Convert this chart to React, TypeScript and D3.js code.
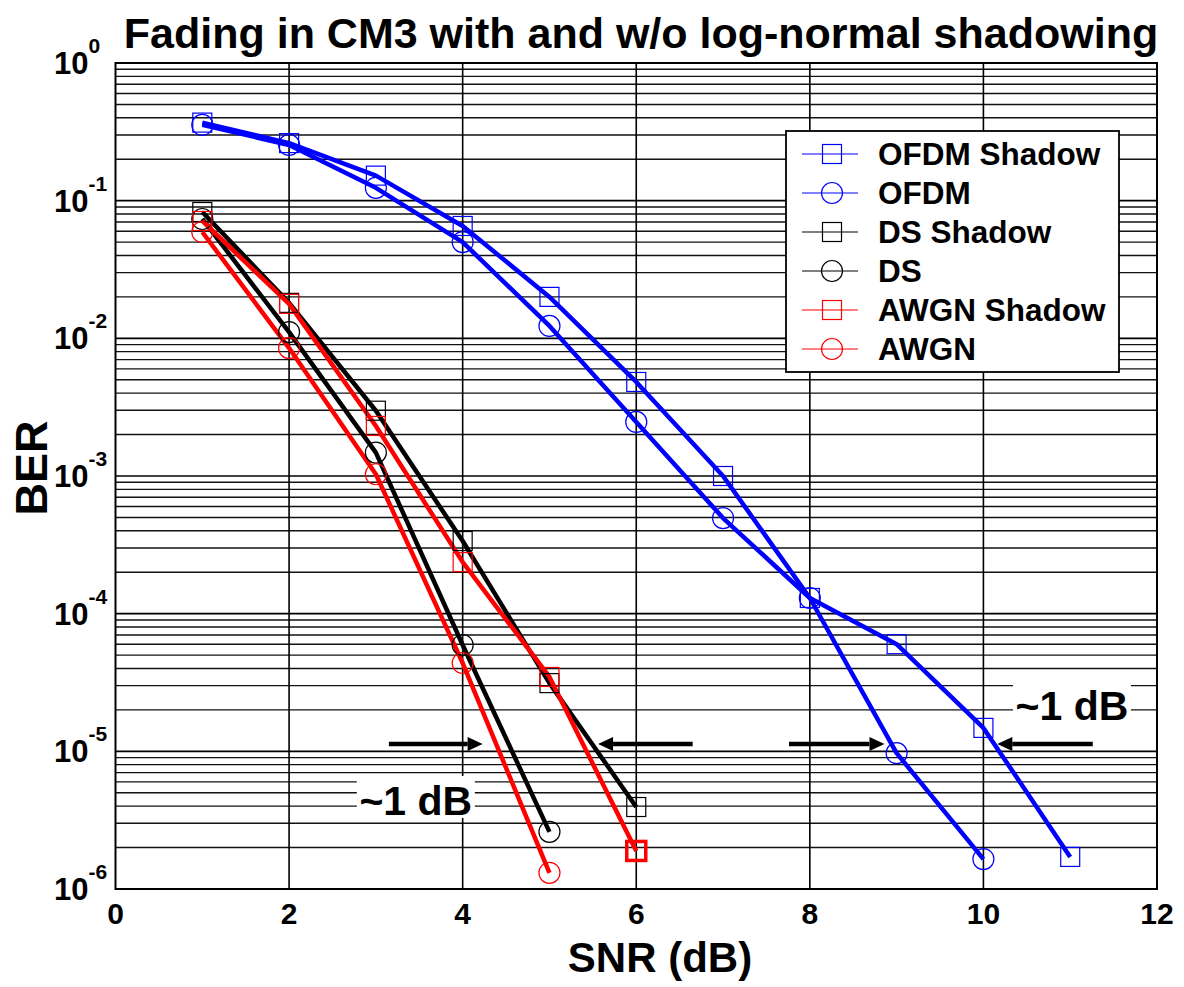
import React, { useEffect } from 'react';
import * as d3 from 'd3';

// ---- data ----
const snr = [1, 2, 3, 4, 5, 6, 7, 8, 9, 10, 11];
const ofdmShadow = [0.369, 0.262, 0.152, 0.0655, 0.02, 0.00482, 1.0e-3, 1.3e-4, 6.0e-5, 1.48e-5, 1.71e-6];
const ofdm = [0.355, 0.254, 0.124, 0.05, 0.0123, 2.47e-3, 4.95e-4, 1.3e-4, 9.7e-6, 1.65e-6];
const dsShadow = [0.0827, 0.0181, 2.98e-3, 3.37e-4, 3.13e-5, 3.94e-6];
const ds = [0.0736, 0.0111, 1.48e-3, 5.92e-5, 2.6e-6];
const awgnShadow = [0.0712, 0.0178, 2.31e-3, 2.37e-4, 3.47e-5, 1.89e-6];
const awgn = [0.0592, 8.5e-3, 1.03e-3, 4.38e-5, 1.31e-6];

const seriesNames = ['OFDM Shadow', 'OFDM', 'DS Shadow', 'DS', 'AWGN Shadow', 'AWGN'];
const seriesValues = [ofdmShadow, ofdm, dsShadow, ds, awgnShadow, awgn];
const seriesColors = ['#0000ff', '#0000ff', '#000000', '#000000', '#ff0000', '#ff0000'];
const seriesMarkers = ['square', 'circle', 'square', 'circle', 'square', 'circle'];

const xTicks = [0, 2, 4, 6, 8, 10, 12];
const yExponents = [0, -1, -2, -3, -4, -5, -6];

// annotations (data coordinates)
const arrowFrom = [3.15, 6.65, 7.76, 11.26];
const arrowTo = [4.23, 5.56, 8.86, 10.16];
const arrowBer = 1.13e-5;
const noteX = [3.46, 11.02];
const noteBer = [3.45e-6, 1.69e-5];
const noteText = '~1 dB';

const W = 1184;
const H = 987;
const FONT = '"Liberation Sans", Arial, Helvetica, sans-serif';

export default function App() {
  useEffect(() => {
    document.body.style.margin = '0';
  }, []);

  const x = d3.scaleLinear().domain([0, 12]).range([115.5, 1157]);
  const y = d3.scaleLog().domain([1e-6, 1]).range([889, 63]);
  const [x0, x1] = x.range();
  const [yb, yt] = y.range();

  // minor grid values
  const minorVals: number[] = [];
  for (let e = -6; e < 0; e++) {
    for (let m = 2; m <= 9; m++) minorVals.push(m * Math.pow(10, e));
  }

  const line = d3
    .line<[number, number]>()
    .x((d) => x(d[0]))
    .y((d) => y(d[1]));

  const marker = (type: string, cx: number, cy: number, color: string, sw: number, key: string) =>
    type === 'square' ? (
      <rect key={key} x={cx - 9.5} y={cy - 9.5} width={19} height={19} fill="none" stroke={color} strokeWidth={sw} />
    ) : (
      <circle key={key} cx={cx} cy={cy} r={10.5} fill="none" stroke={color} strokeWidth={sw} />
    );

  const legX = 786;
  const legY = 131;
  const legW = 333;
  const legH = 241;
  const rowY0 = 154;
  const rowDy = 39;

  return (
    <svg width={W} height={H} style={{ display: 'block', background: '#fff' }} fontFamily={FONT}>
      <rect x={0} y={0} width={W} height={H} fill="#fff" />
      {/* horizontal grid */}
      {minorVals.map((v, i) => (
        <line key={'hm' + i} x1={x0} x2={x1} y1={y(v)} y2={y(v)} stroke="#111" strokeWidth={1.4} />
      ))}
      {yExponents.map((e) => (
        <line key={'hd' + e} x1={x0} x2={x1} y1={y(Math.pow(10, e))} y2={y(Math.pow(10, e))} stroke="#000" strokeWidth={1.6} />
      ))}
      {/* vertical grid */}
      {xTicks.slice(1, -1).map((t) => (
        <line key={'v' + t} x1={x(t)} x2={x(t)} y1={yt} y2={yb} stroke="#000" strokeWidth={1.6} />
      ))}
      {/* axes box */}
      <rect x={x0} y={yt} width={x1 - x0} height={yb - yt} fill="none" stroke="#000" strokeWidth={2} />

      {/* series lines */}
      {seriesValues.map((vals, si) => (
        <path
          key={'l' + si}
          d={line(vals.map((v, i) => [snr[i], v] as [number, number])) || ''}
          fill="none"
          stroke={seriesColors[si]}
          strokeWidth={4.5}
          strokeLinejoin="round"
        />
      ))}
      {/* markers */}
      {seriesValues.map((vals, si) =>
        vals.map((v, i) => {
          const last = si === 4 && i === vals.length - 1;
          return marker(seriesMarkers[si], x(snr[i]), y(v), seriesColors[si], last ? 3.5 : 1.2, 'm' + si + '-' + i);
        })
      )}

      {/* arrows */}
      {arrowFrom.map((f, i) => {
        const xa = x(f);
        const xt = x(arrowTo[i]);
        const ya = y(arrowBer);
        const dir = xt > xa ? 1 : -1;
        const hl = 15;
        return (
          <g key={'a' + i}>
            <line x1={xa} x2={xt - dir * hl} y1={ya} y2={ya} stroke="#000" strokeWidth={4.5} />
            <path d={`M${xt},${ya} L${xt - dir * hl},${ya - 7} L${xt - dir * hl},${ya + 7} Z`} fill="#000" />
          </g>
        );
      })}
      {/* ~1 dB notes */}
      {noteX.map((nx, i) => (
        <g key={'n' + i}>
          <rect x={x(nx) - 59} y={y(noteBer[i]) - 39} width={118} height={42} fill="#fff" />
          <text x={x(nx)} y={y(noteBer[i])} textAnchor="middle" fontSize={41} fontWeight="bold" fill="#000">
            {noteText}
          </text>
        </g>
      ))}

      {/* legend */}
      <rect x={legX} y={legY} width={legW} height={legH} fill="#fff" stroke="#000" strokeWidth={1.8} />
      {seriesNames.map((name, i) => {
        const ry = rowY0 + i * rowDy;
        return (
          <g key={'lg' + i}>
            <line x1={802} x2={858} y1={ry} y2={ry} stroke={seriesColors[i]} strokeWidth={1.2} />
            {marker(seriesMarkers[i], 832, ry, seriesColors[i], 1.2, 'lm' + i)}
            <text x={878} y={ry + 11} fontSize={31.5} fontWeight="bold" fill="#000">
              {name}
            </text>
          </g>
        );
      })}

      {/* x tick labels */}
      {xTicks.map((t) => (
        <text key={'xt' + t} x={x(t)} y={924} textAnchor="middle" fontSize={30} fontWeight="bold" fill="#000">
          {t}
        </text>
      ))}
      {/* y tick labels */}
      {yExponents.map((e) => {
        const yy = y(Math.pow(10, e));
        return (
          <text key={'yt' + e} x={54} y={yy + 11} fontSize={31} fontWeight="bold" fill="#000">
            10
            <tspan dy={-21} fontSize={21}>
              {String(e)}
            </tspan>
          </text>
        );
      })}

      {/* axis titles */}
      <text x={660} y={972} textAnchor="middle" fontSize={42} fontWeight="bold" fill="#000">
        SNR (dB)
      </text>
      <text transform="translate(47,468) rotate(-90)" textAnchor="middle" fontSize={45} fontWeight="bold" fill="#000">
        BER
      </text>
      {/* title */}
      <text x={641} y={48} textAnchor="middle" fontSize={43} fontWeight="bold" fill="#000">
        Fading in CM3 with and w/o log-normal shadowing
      </text>
    </svg>
  );
}
